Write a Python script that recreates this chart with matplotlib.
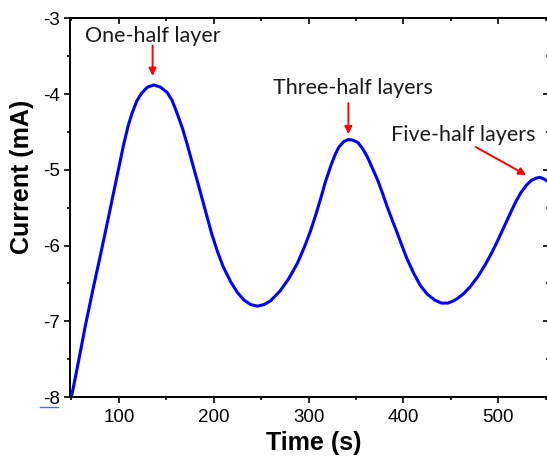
import matplotlib
matplotlib.use('Agg')
import matplotlib.pyplot as plt
from matplotlib.ticker import MultipleLocator
from matplotlib.lines import Line2D

plt.rcParams['font.family'] = ['Liberation Sans', 'DejaVu Sans']
plt.rcParams['axes.unicode_minus'] = False

# current transient
time_s = [50, 57, 65, 72, 80, 87, 94, 100, 105, 110, 114, 119, 124, 130, 137,
          144, 151, 156, 161, 167, 172, 177, 183, 188, 193, 198, 204, 210, 218,
          225, 232, 239, 246, 253, 260, 270, 279, 288, 295, 302, 308, 313, 318,
          324, 328, 332, 337, 342, 347, 352, 357, 362, 367, 373, 378, 383, 389,
          394, 399, 404, 411, 418, 425, 433, 440, 447, 453, 458, 464, 470, 478,
          486, 493, 500, 507, 514, 519, 524, 530, 535, 540, 544, 548, 553]
current_mA = [-8.00, -7.56, -7.04, -6.62, -6.16, -5.75, -5.33, -4.97, -4.67,
              -4.41, -4.25, -4.09, -3.99, -3.91, -3.88, -3.91, -3.98, -4.08,
              -4.24, -4.45, -4.66, -4.89, -5.16, -5.39, -5.62, -5.85, -6.08,
              -6.28, -6.48, -6.62, -6.72, -6.78, -6.80, -6.78, -6.73, -6.60,
              -6.44, -6.24, -6.04, -5.81, -5.58, -5.37, -5.15, -4.93, -4.80,
              -4.70, -4.63, -4.60, -4.61, -4.64, -4.72, -4.83, -4.97, -5.14,
              -5.31, -5.49, -5.69, -5.85, -6.02, -6.18, -6.37, -6.53, -6.64,
              -6.72, -6.76, -6.76, -6.73, -6.69, -6.63, -6.55, -6.42, -6.26,
              -6.10, -5.92, -5.73, -5.54, -5.41, -5.30, -5.20, -5.14, -5.11,
              -5.10, -5.12, -5.16]

# peak labels: text anchor, arrow tail, arrow tip
labels = ['One-half layer', 'Three-half layers', 'Five-half layers']
label_xy = [(135.3, -3.31), (347.1, -4.00), (463.6, -4.62)]
arrow_from = [(135.6, -3.36), (342.0, -4.12), (476.5, -4.70)]
arrow_to = [(135.6, -3.76), (342.0, -4.53), (529.5, -5.07)]

fig = plt.figure(figsize=(5.47, 4.59), dpi=100)
ax = fig.add_axes([70/547, 62/459, 478.5/547, 378.7/459])

ax.plot(time_s, current_mA, color='#0000FF', lw=2.2)

ax.set_xlim(48.5, 553)
ax.set_ylim(-8, -3)

ax.xaxis.set_major_locator(MultipleLocator(100))
ax.xaxis.set_minor_locator(MultipleLocator(50))
ax.yaxis.set_major_locator(MultipleLocator(1))
ax.yaxis.set_minor_locator(MultipleLocator(0.5))

ax.tick_params(which='major', direction='out', length=4.5, width=1.2,
               labelsize=13.5, pad=3)
ax.tick_params(which='minor', direction='out', length=2.5, width=1.2)
ax.tick_params(axis='x', pad=4)
ax.tick_params(top=False, right=False)

for sp in ax.spines.values():
    sp.set_linewidth(1.4)

# mirrored axes: ticks pointing inwards, no labels
top = ax.secondary_xaxis('top')
top.xaxis.set_major_locator(MultipleLocator(100))
top.xaxis.set_minor_locator(MultipleLocator(50))
top.tick_params(which='major', direction='in', length=4.5, width=1.2, labeltop=False)
top.tick_params(which='minor', direction='in', length=2.5, width=1.2)
top.spines['top'].set_linewidth(1.4)

right = ax.secondary_yaxis('right')
right.yaxis.set_major_locator(MultipleLocator(1))
right.yaxis.set_minor_locator(MultipleLocator(0.5))
right.tick_params(which='major', direction='in', length=4.5, width=1.2, labelright=False)
right.tick_params(which='minor', direction='in', length=2.5, width=1.2)
right.spines['right'].set_linewidth(1.4)

ax.set_xlabel('Time (s)', fontsize=18, fontweight='bold')
ax.set_ylabel('Current (mA)', fontsize=18, fontweight='bold')
ax.xaxis.set_label_coords(0.51, -0.09)
ax.yaxis.set_label_coords(-0.075, 0.58)

for txt, (tx, ty), start, tip in zip(labels, label_xy, arrow_from, arrow_to):
    ax.text(tx, ty, txt, ha='center', va='baseline', fontsize=15.5,
            family=['Lato', 'DejaVu Sans'], color='#1a1a1a')
    ax.annotate('', xy=tip, xytext=start,
                arrowprops=dict(arrowstyle='-|>', color='#FF0000', lw=1.4,
                                mutation_scale=11, shrinkA=0, shrinkB=0))

# underline below the lowest y tick label
fig.add_artist(Line2D([40/547, 58/547], [1 - 407/459, 1 - 407/459],
                      color='#4a78d0', lw=1.0))

fig.savefig('out.png', dpi=100)
